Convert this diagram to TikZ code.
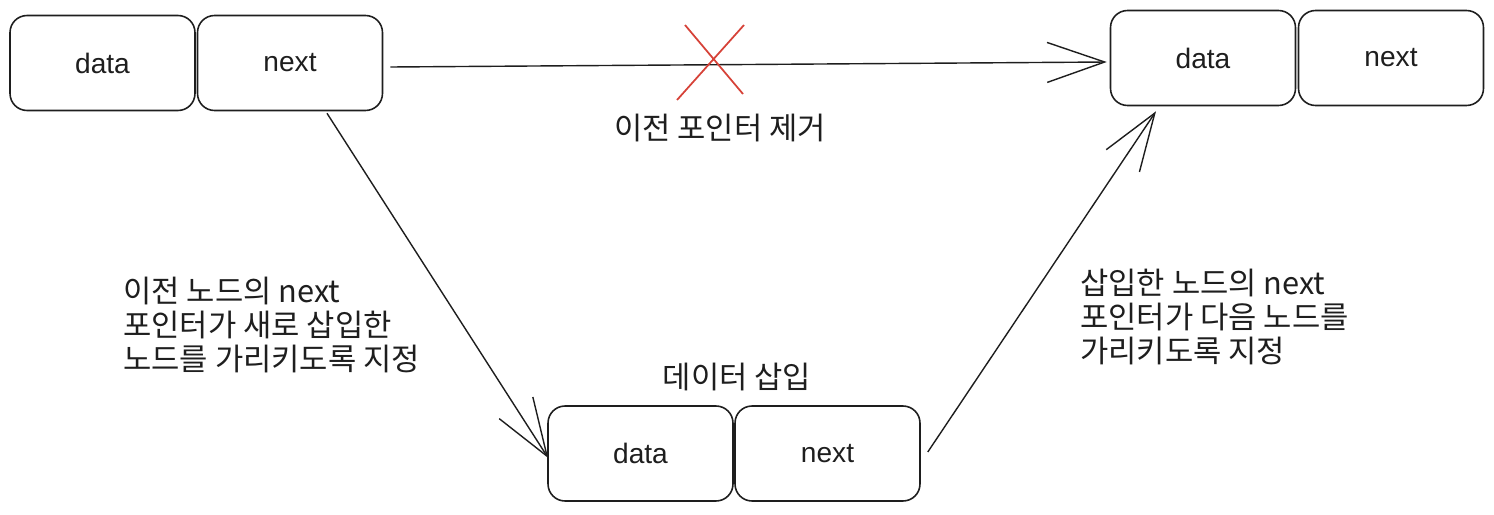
\documentclass[tikz,border=0pt]{standalone}
\usepackage{fontspec}
\setmainfont{Liberation Sans}
\newfontfamily\kr{Noto Sans CJK KR}
\usetikzlibrary{arrows.meta}
\definecolor{ink}{RGB}{30,30,30}
\definecolor{cross}{RGB}{214,66,56}

\begin{document}
\begin{tikzpicture}[x=0.02cm, y=-0.02cm, every node/.style={text=ink}, cell/.style={draw=ink, rounded corners=0.34cm, minimum width=3.7cm, minimum height=1.9cm, line width=0.9pt, font=\fontsize{16pt}{19pt}\selectfont}, link/.style={draw=ink, line width=0.8pt, -{Straight Barb[length=1.15cm, width=0.8cm, line width=0.8pt]}}, note/.style={font=\kr\fontsize{17.5pt}{19.3pt}\selectfont, align=left, inner sep=0pt}]
  \useasboundingbox (0,0) rectangle (1494,514);
  \node[cell] (pdata) at (102.5,63) {data};
  \node[cell] (pnext) at (290,63) {next};
  \node[cell] (qdata) at (1203,58) {data};
  \node[cell] (qnext) at (1391,58) {next};
  \node[cell] (ndata) at (640.5,453.5) {data};
  \node[cell] (nnext) at (827.5,453.5) {next};
  \draw[link] ([xshift=0.14cm, yshift=-0.08cm]pnext.east) -- ([xshift=-0.06cm, yshift=-0.08cm]qdata.west);
  \draw[cross, line width=1pt] (685,25) -- (743,94) (744,25) -- (677,100);
  \draw[link] ([xshift=0.74cm, yshift=-0.04cm]pnext.south) -- ([xshift=0.02cm, yshift=-0.09cm]ndata.west);
  \draw[link] ([xshift=0.14cm, yshift=0.03cm]nnext.east) -- ([xshift=-0.94cm, yshift=-0.1cm]qdata.south);
  \node[note] (rm) at (720,128) {이전 포인터 제거};
  \node[note] (ins) at (737,377) {데이터 삽입};
  \node[note, anchor=west] (lnote) at (123,325) {이전 노드의 next\\포인터가 새로 삽입한\\노드를 가리키도록 지정};
  \node[note, anchor=west] (rnote) at (1080,317) {삽입한 노드의 next\\포인터가 다음 노드를\\가리키도록 지정};
\end{tikzpicture}
\end{document}
